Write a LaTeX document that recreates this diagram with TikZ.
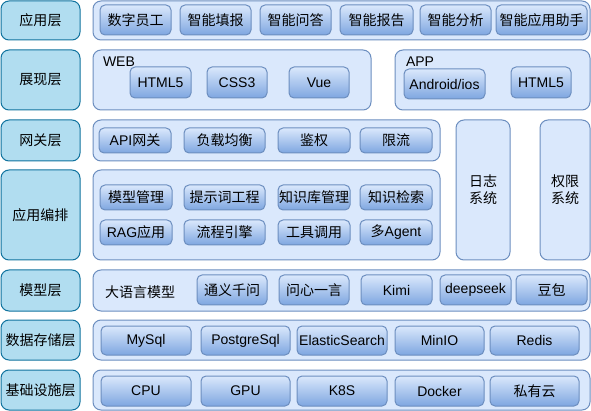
\documentclass[tikz,border=0pt]{standalone}
\usepackage{fontspec}
\setmainfont{Noto Sans CJK SC}
\newfontfamily\latf{Liberation Sans}
\newcommand\lat[1]{{\latf #1}}
\definecolor{labfill}{HTML}{B1DDF0}
\definecolor{labdraw}{HTML}{10739E}
\definecolor{confill}{HTML}{DAE8FC}
\definecolor{condraw}{HTML}{6C8EBF}
\definecolor{btntop}{HTML}{DAE8FC}
\definecolor{btnbot}{HTML}{7EA6E0}
\newcommand\mkbox[7]{\node[#6, minimum width={#4-#2}, minimum height={#5-#3}] (#1) at ({(#2+#4)/2},{(#3+#5)/2}) {#7};}
\begin{document}
\begin{tikzpicture}[x=1pt,y=-1pt,
  every node/.style={inner sep=0pt, outer sep=0pt, font=\fontsize{14}{16.7}\selectfont, text=black, align=center},
  layer/.style={draw=labdraw, fill=labfill, line width=1pt, rounded corners=8pt},
  panel/.style={draw=condraw, fill=confill, line width=1pt, rounded corners=8pt},
  btn/.style={draw=condraw, top color=btntop, bottom color=btnbot, line width=1pt, rounded corners=5pt}]
\useasboundingbox (0,0) rectangle (591,411);
% layer labels
\mkbox{L1}{1}{1}{80}{40}{layer}{应用层}
\mkbox{L2}{1}{50}{80}{110}{layer}{展现层}
\mkbox{L3}{1}{120}{80}{161}{layer}{网关层}
\mkbox{L4}{1}{170}{80}{260}{layer}{应用编排}
\mkbox{L5}{1}{270}{80}{311}{layer}{模型层}
\mkbox{L6}{1}{320}{80}{360}{layer}{数据存储层}
\mkbox{L7}{1}{370}{80}{410}{layer}{基础设施层}
% panels
\mkbox{C1}{93}{1}{590}{40}{panel}{}
\mkbox{C2a}{93}{50}{371}{110}{panel}{}
\mkbox{C2b}{395}{50}{590}{110}{panel}{}
\mkbox{C3}{93}{120}{440}{161}{panel}{}
\mkbox{C4}{93}{170}{440}{260}{panel}{}
\mkbox{S1}{456}{120}{510}{260}{panel}{日志\\系统}
\mkbox{S2}{540}{120}{590}{260}{panel}{权限\\系统}
\mkbox{C5}{93}{270}{590}{311}{panel}{}
\mkbox{C6}{93}{320}{590}{360}{panel}{}
\mkbox{C7}{93}{370}{590}{410}{panel}{}
\node[anchor=west] (web) at (103,62) {\lat{WEB}};
\node[anchor=west] (app) at (406,62) {\lat{APP}};
\node (llm) at (140,292) {大语言模型};
% row 1
\mkbox{b11}{100}{5}{171}{35}{btn}{数字员工}
\mkbox{b12}{180}{5}{251}{35}{btn}{智能填报}
\mkbox{b13}{260}{5}{331}{35}{btn}{智能问答}
\mkbox{b14}{340}{5}{413}{35}{btn}{智能报告}
\mkbox{b15}{420}{5}{491}{35}{btn}{智能分析}
\mkbox{b16}{496}{5}{587}{35}{btn}{智能应用助手}
% row 2
\mkbox{b21}{130}{67}{191}{98}{btn}{\lat{HTML5}}
\mkbox{b22}{207}{67}{267}{98}{btn}{\lat{CSS3}}
\mkbox{b23}{289}{67}{349}{98}{btn}{\lat{Vue}}
\mkbox{b24}{404}{69}{485}{99}{btn}{\lat{Android/ios}}
\mkbox{b25}{511}{67}{571}{98}{btn}{\lat{HTML5}}
% row 3
\mkbox{b31}{99}{128}{171}{153}{btn}{\lat{API}网关}
\mkbox{b32}{184}{128}{265}{153}{btn}{负载均衡}
\mkbox{b33}{278}{128}{350}{153}{btn}{鉴权}
\mkbox{b34}{360}{128}{432}{153}{btn}{限流}
% row 4
\mkbox{b41}{100}{185}{172}{210}{btn}{模型管理}
\mkbox{b42}{184}{185}{265}{210}{btn}{提示词工程}
\mkbox{b43}{278}{185}{350}{210}{btn}{知识库管理}
\mkbox{b44}{360}{185}{432}{210}{btn}{知识检索}
\mkbox{b45}{100}{220}{172}{245}{btn}{\lat{RAG}应用}
\mkbox{b46}{184}{220}{265}{245}{btn}{流程引擎}
\mkbox{b47}{278}{220}{350}{245}{btn}{工具调用}
\mkbox{b48}{360}{220}{432}{245}{btn}{多\lat{Agent}}
% row 5
\mkbox{b51}{197}{275}{267}{305}{btn}{通义千问}
\mkbox{b52}{279}{275}{349}{305}{btn}{问心一言}
\mkbox{b53}{361}{275}{432}{305}{btn}{\lat{Kimi}}
\mkbox{b54}{440}{275}{511}{305}{btn}{\lat{deepseek}}
\mkbox{b55}{516}{275}{587}{305}{btn}{豆包}
% row 6
\mkbox{b61}{101}{326}{191}{355}{btn}{\lat{MySql}}
\mkbox{b62}{201}{326}{290}{355}{btn}{\lat{PostgreSql}}
\mkbox{b63}{297}{326}{387}{355}{btn}{\lat{ElasticSearch}}
\mkbox{b64}{395}{326}{484}{355}{btn}{\lat{MinIO}}
\mkbox{b65}{490}{326}{579}{355}{btn}{\lat{Redis}}
% row 7
\mkbox{b71}{101}{376}{191}{406}{btn}{\lat{CPU}}
\mkbox{b72}{201}{376}{290}{406}{btn}{\lat{GPU}}
\mkbox{b73}{297}{376}{387}{406}{btn}{\lat{K8S}}
\mkbox{b74}{395}{376}{484}{406}{btn}{\lat{Docker}}
\mkbox{b75}{490}{376}{579}{406}{btn}{私有云}
\end{tikzpicture}
\end{document}
